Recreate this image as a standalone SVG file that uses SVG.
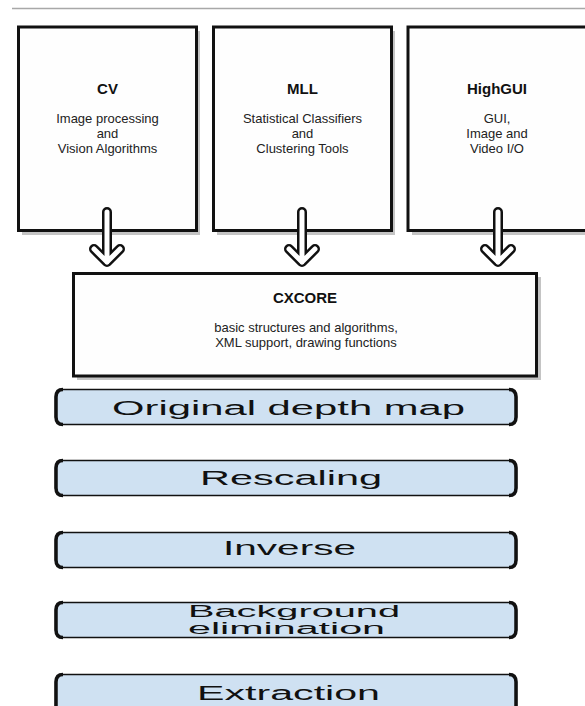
<svg xmlns="http://www.w3.org/2000/svg" width="585" height="706" viewBox="0 0 585 706">
<style>
.shadow{fill:#c4c4c4;stroke:none}
.box{fill:#fefefe;stroke:#111;stroke-width:3}
.title{font-family:"Liberation Sans",Arial,sans-serif;font-weight:bold;font-size:15px;fill:#111;text-anchor:middle}
.sub{font-family:"Liberation Sans",Arial,sans-serif;font-size:13px;fill:#222;text-anchor:middle}
.step{fill:#cfe1f2;stroke:#111;stroke-width:1.5}
.bracket{fill:none;stroke:#111;stroke-width:3.5}
.lbl{font-family:"Liberation Sans",Arial,sans-serif;font-size:20px;fill:#111}
.arrowOut{fill:none;stroke:#111;stroke-width:10;stroke-linecap:round;stroke-linejoin:round}
.arrowIn{fill:none;stroke:#fff;stroke-width:5;stroke-linecap:round;stroke-linejoin:round}
</style>
<rect width="585" height="706" fill="#fff"/>
<line x1="12" y1="8.5" x2="585" y2="8.5" stroke="#a8a8a8" stroke-width="1.5"/>

<g id="cv">
<rect class="shadow" x="22" y="31" width="178" height="204"/>
<rect class="box" x="18.5" y="27" width="178" height="203.5"/>
<text class="title" x="107.5" y="94">CV</text>
<text class="sub" x="107.5" y="123">Image processing</text>
<text class="sub" x="107.5" y="138">and</text>
<text class="sub" x="107.5" y="153">Vision Algorithms</text>
</g>

<g id="mll">
<rect class="shadow" x="217" y="31" width="178" height="204"/>
<rect class="box" x="213.5" y="27" width="178" height="203.5"/>
<text class="title" x="302.5" y="94">MLL</text>
<text class="sub" x="302.5" y="123">Statistical Classifiers</text>
<text class="sub" x="302.5" y="138">and</text>
<text class="sub" x="302.5" y="153">Clustering Tools</text>
</g>

<g id="highgui">
<rect class="shadow" x="412" y="31" width="190" height="204"/>
<rect class="box" x="408" y="27" width="190" height="203.5"/>
<text class="title" x="497" y="94">HighGUI</text>
<text class="sub" x="497" y="123">GUI,</text>
<text class="sub" x="497" y="138">Image and</text>
<text class="sub" x="497" y="153">Video I/O</text>
</g>

<g id="cxcore">
<rect class="shadow" x="77" y="277" width="464" height="103"/>
<rect class="box" x="73.5" y="273.5" width="463" height="102.5"/>
<text class="title" x="305" y="303">CXCORE</text>
<text class="sub" x="306" y="332">basic structures and algorithms,</text>
<text class="sub" x="306" y="347">XML support, drawing functions</text>
</g>

<g id="connectors">
<path class="arrowOut" d="M107,212 V262 M94,249 L107,262 L120,249"/>
<path class="arrowIn" d="M107,212 V262 M94,249 L107,262 L120,249"/>
<path class="arrowOut" d="M302,212 V262 M289,249 L302,262 L315,249"/>
<path class="arrowIn" d="M302,212 V262 M289,249 L302,262 L315,249"/>
<path class="arrowOut" d="M498,212 V262 M485,249 L498,262 L511,249"/>
<path class="arrowIn" d="M498,212 V262 M485,249 L498,262 L511,249"/>
</g>

<g id="original-depth-map">
<rect class="step" x="55.5" y="389.5" width="461" height="35" rx="7"/>
<path class="bracket" d="M63,389.5 Q56,389.5 56,397 V417 Q56,424.5 63,424.5"/>
<path class="bracket" d="M509,389.5 Q516,389.5 516,397 V417 Q516,424.5 509,424.5"/>
<text class="lbl" x="112" y="415" textLength="353" lengthAdjust="spacingAndGlyphs">Original depth map</text>
</g>

<g id="rescaling">
<rect class="step" x="55.5" y="460.5" width="461" height="35" rx="7"/>
<path class="bracket" d="M63,460.5 Q56,460.5 56,468 V488 Q56,495.5 63,495.5"/>
<path class="bracket" d="M509,460.5 Q516,460.5 516,468 V488 Q516,495.5 509,495.5"/>
<text class="lbl" x="200" y="485" textLength="182" lengthAdjust="spacingAndGlyphs">Rescaling</text>
</g>

<g id="inverse">
<rect class="step" x="55.5" y="532.5" width="461" height="35" rx="7"/>
<path class="bracket" d="M63,532.5 Q56,532.5 56,540 V560 Q56,567.5 63,567.5"/>
<path class="bracket" d="M509,532.5 Q516,532.5 516,540 V560 Q516,567.5 509,567.5"/>
<text class="lbl" x="223" y="555" textLength="133" lengthAdjust="spacingAndGlyphs">Inverse</text>
</g>

<g id="background-elimination">
<rect class="step" x="55.5" y="602.5" width="461" height="35" rx="7"/>
<path class="bracket" d="M63,602.5 Q56,602.5 56,610 V630 Q56,637.5 63,637.5"/>
<path class="bracket" d="M509,602.5 Q516,602.5 516,610 V630 Q516,637.5 509,637.5"/>
<text class="lbl" x="188" y="617" style="font-size:16px" textLength="212" lengthAdjust="spacingAndGlyphs">Background</text>
<text class="lbl" x="188" y="634" style="font-size:16px" textLength="197" lengthAdjust="spacingAndGlyphs">elimination</text>
</g>

<g id="extraction">
<rect class="step" x="55.5" y="674.5" width="461" height="40" rx="7"/>
<path class="bracket" d="M63,674.5 Q56,674.5 56,682 V714"/>
<path class="bracket" d="M509,674.5 Q516,674.5 516,682 V714"/>
<text class="lbl" x="197" y="700" textLength="183" lengthAdjust="spacingAndGlyphs">Extraction</text>
</g>
</svg>
